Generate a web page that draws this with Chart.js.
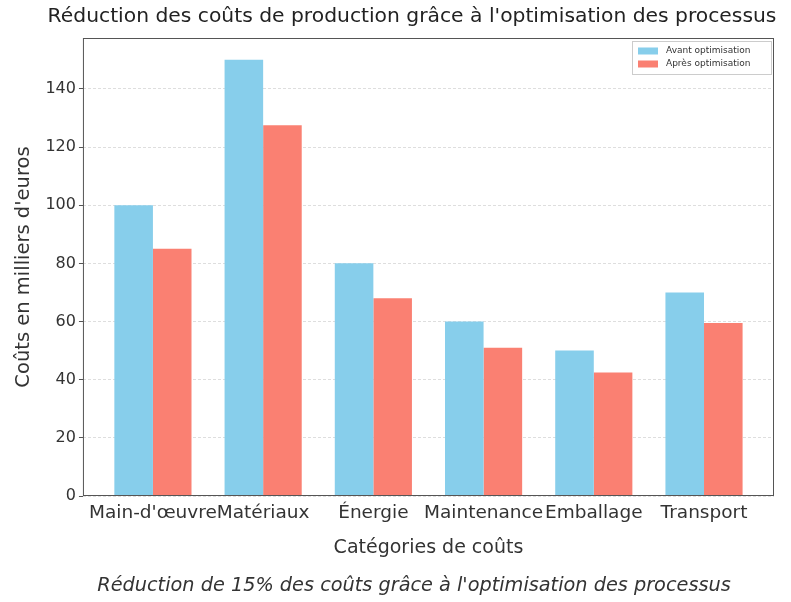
<!DOCTYPE html>
<html>
<head>
<meta charset="utf-8">
<script src="https://cdn.jsdelivr.net/npm/chart.js@4.4.0/dist/chart.umd.min.js"></script>
<style>
    html, body { margin: 0; padding: 0; background: #fff; }
    #wrap { width: 791px; height: 602px; }
</style>
</head>
<body>
<div id="wrap"><canvas id="costChart"></canvas></div>
<script>
// Données
var categories = ["Main-d'œuvre", 'Matériaux', 'Énergie', 'Maintenance', 'Emballage', 'Transport'];
var avantOptimisation = [100, 150, 80, 60, 50, 70];
var apresOptimisation = [85, 127.5, 68, 51, 42.5, 59.5];
var yTickValues = [0, 20, 40, 60, 80, 100, 120, 140];
var seriesLabels = ['Avant optimisation', 'Après optimisation'];
var titre = "Réduction des coûts de production grâce à l'optimisation des processus";
var note = "Réduction de 15% des coûts grâce à l'optimisation des processus";

var FONT = "'DejaVu Sans', sans-serif";
var TEXT = '#333333';

// Cadre, légende, titre et note de bas de page
var framePlugin = {
    id: 'frame',
    afterDraw: function(chart) {
        var a = chart.chartArea, ctx = chart.ctx;
        ctx.save();
        ctx.strokeStyle = '#555555';
        ctx.lineWidth = 1;
        ctx.strokeRect(a.left + 0.5, a.top + 0.5, a.right - a.left - 1, a.bottom - a.top - 1);

        // légende
        var bx = a.right - 142, by = a.top + 3, bw = 139, bh = 33;
        ctx.fillStyle = 'rgba(255,255,255,0.85)';
        ctx.strokeStyle = '#cccccc';
        ctx.fillRect(bx, by, bw, bh);
        ctx.strokeRect(bx + 0.5, by + 0.5, bw, bh);
        ctx.font = '9px ' + FONT;
        ctx.textBaseline = 'middle';
        chart.data.datasets.forEach(function(ds, i) {
            var y = by + 10 + i * 13;
            ctx.fillStyle = ds.backgroundColor;
            ctx.fillRect(bx + 6, y - 3.5, 20, 7);
            ctx.fillStyle = TEXT;
            ctx.fillText(ds.label, bx + 34, y);
        });

        // titre + note
        ctx.textAlign = 'center';
        ctx.fillStyle = '#222222';
        ctx.font = '20.3px ' + FONT;
        ctx.fillText(titre, 412, 17);
        ctx.fillStyle = TEXT;
        ctx.font = 'italic 19.3px ' + FONT;
        ctx.fillText(note, 414, 586);
        ctx.restore();
    }
};

var ctx = document.getElementById('costChart').getContext('2d');
var costChart = new Chart(ctx, {
    type: 'bar',
    data: {
        datasets: [{
            label: seriesLabels[0],
            data: avantOptimisation.map(function(v, i) { return { x: i, y: v }; }),
            backgroundColor: '#87CEEB',
            borderWidth: 0,
            categoryPercentage: 0.7,
            barPercentage: 1.0
        }, {
            label: seriesLabels[1],
            data: apresOptimisation.map(function(v, i) { return { x: i, y: v }; }),
            backgroundColor: '#FA8072',
            borderWidth: 0,
            categoryPercentage: 0.7,
            barPercentage: 1.0
        }]
    },
    options: {
        responsive: true,
        maintainAspectRatio: false,
        animation: false,
        layout: {
            padding: { left: 12, right: 17, top: 38, bottom: 43 }
        },
        plugins: {
            legend: { display: false },
            tooltip: { enabled: false },
            title: { display: false }
        },
        scales: {
            x: {
                type: 'linear',
                min: -0.635,
                max: 5.635,
                offset: false,
                afterBuildTicks: function(axis) {
                    axis.ticks = categories.map(function(c, i) { return { value: i }; });
                },
                grid: {
                    display: false,
                    drawTicks: true,
                    tickLength: 4,
                    tickColor: '#555555'
                },
                border: { display: false },
                ticks: {
                    autoSkip: false,
                    maxRotation: 0,
                    color: TEXT,
                    font: { size: 18.5, family: FONT },
                    padding: 2,
                    callback: function(value) { return categories[value]; }
                },
                title: {
                    display: true,
                    text: 'Catégories de coûts',
                    color: TEXT,
                    font: { size: 19, family: FONT },
                    padding: { top: 10, bottom: 0 }
                }
            },
            y: {
                min: 0,
                max: 157.5,
                afterBuildTicks: function(axis) {
                    axis.ticks = yTickValues.map(function(v) { return { value: v }; });
                },
                grid: {
                    color: '#dedede',
                    lineWidth: 1,
                    tickLength: 4,
                    tickColor: '#555555',
                    drawOnChartArea: true
                },
                border: { display: false, dash: [3, 2] },
                ticks: {
                    color: TEXT,
                    font: { size: 16, family: FONT },
                    padding: 3
                },
                title: {
                    display: true,
                    text: "Coûts en milliers d'euros",
                    color: TEXT,
                    font: { size: 19.5, family: FONT },
                    padding: { top: 0, bottom: 7 }
                }
            }
        }
    },
    plugins: [framePlugin]
});
</script>
</body>
</html>
